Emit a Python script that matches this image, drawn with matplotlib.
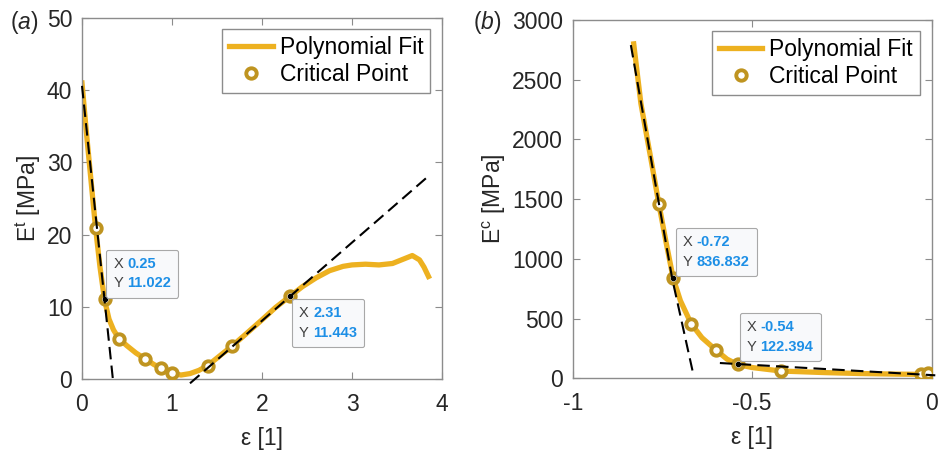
import matplotlib
matplotlib.use("Agg")
import matplotlib.pyplot as plt
from matplotlib.offsetbox import TextArea, HPacker, VPacker, AnnotationBbox

plt.rcParams["font.family"] = ["Liberation Sans", "DejaVu Sans"]
plt.rcParams["mathtext.fontset"] = "custom"
plt.rcParams["mathtext.rm"] = "Liberation Sans"
plt.rcParams["mathtext.it"] = "Liberation Sans:italic"

# ---- panel (a): tension ----
fit_a_x = [0.00, 0.05, 0.10, 0.15, 0.20, 0.25, 0.30, 0.35, 0.41, 0.50, 0.60, 0.70,
           0.80, 0.88, 0.95, 1.00, 1.10, 1.20, 1.30, 1.40, 1.50, 1.67, 1.80, 2.00,
           2.15, 2.31, 2.45, 2.60, 2.75, 2.90, 3.00, 3.15, 3.30, 3.45, 3.55, 3.67,
           3.75, 3.80, 3.85]
fit_a_y = [41.0, 34.0, 27.5, 21.0, 15.5, 11.0, 8.3, 6.8, 5.6, 4.6, 3.6, 2.8,
           2.0, 1.5, 1.0, 0.8, 0.55, 0.75, 1.2, 1.9, 2.9, 4.6, 6.0, 8.2,
           9.9, 11.45, 12.8, 14.0, 15.0, 15.6, 15.8, 15.9, 15.8, 16.0, 16.5, 17.1,
           16.5, 15.5, 14.2]
crit_a_x = [0.15, 0.25, 0.41, 0.70, 0.88, 1.00, 1.40, 1.67, 2.31]
crit_a_y = [20.9, 11.022, 5.6, 2.8, 1.57, 0.8, 1.85, 4.6, 11.443]
tan_a1_x = [0.0, 0.348]
tan_a1_y = [40.6, -0.6]
tan_a2_x = [1.20, 3.84]
tan_a2_y = [-0.6, 28.0]
tips_a = [(0.25, 11.022, "0.25", "11.022"), (2.31, 11.443, "2.31", "11.443")]

# ---- panel (b): compression ----
fit_b_x = [-0.830, -0.820, -0.810, -0.795, -0.780, -0.760, -0.740, -0.720, -0.700,
           -0.670, -0.640, -0.600, -0.570, -0.540, -0.500, -0.420, -0.300, -0.200,
           -0.100, -0.030, -0.010, 0.000]
fit_b_y = [2800, 2550, 2300, 2050, 1800, 1460, 1140, 837, 650,
           457, 340, 234, 160, 115, 90, 61, 48, 40,
           35, 33, 45, 48]
crit_b_x = [-0.76, -0.72, -0.67, -0.60, -0.54, -0.42, -0.031, -0.009]
crit_b_y = [1459, 836.832, 457, 234, 122.394, 61, 33, 47]
tan_b1_x = [-0.838, -0.7225, -0.664]
tan_b1_y = [2790, 830, 33]
tan_b2_x = [-0.59, 0.01]
tan_b2_y = [128, 25]
tips_b = [(-0.72, 836.832, "-0.72", "836.832"), (-0.54, 122.394, "-0.54", "122.394")]

LINE_C = "#EDB120"
MARK_C = "#BF9420"
SPINE_C = "#8c8c8c"
TEXT_C = "#262626"
FS = 16.5
TIP_FS = 10.5

fig = plt.figure(figsize=(9.4, 4.51), dpi=100)
ax_a = fig.add_axes([82 / 940, 1 - 379 / 451, 360 / 940, 361 / 451])
ax_b = fig.add_axes([572.7 / 940, 1 - 378.3 / 451, 359 / 940, 358.3 / 451])


def add_tip(ax, x, y, xs, ys, offset, align):
    rows = []
    for lab, val in (("X ", xs), ("Y ", ys)):
        t1 = TextArea(lab, textprops=dict(color="#404040", fontsize=TIP_FS))
        t2 = TextArea(val, textprops=dict(color="#1d8fe6", fontsize=TIP_FS, fontweight="bold"))
        rows.append(HPacker(children=[t1, t2], pad=0, sep=0, align="baseline"))
    box = VPacker(children=rows, pad=0, sep=4, align="left")
    ab = AnnotationBbox(box, (x, y), xybox=offset, xycoords="data",
                        boxcoords="offset points", box_alignment=align,
                        frameon=True, pad=0.5, fontsize=TIP_FS,
                        bboxprops=dict(boxstyle="round,pad=0.5,rounding_size=0.15",
                                       fc="#f8f9fb", ec="#a8a8a8", lw=0.8),
                        zorder=6)
    ax.add_artist(ab)
    ax.plot([x], [y], "o", color="k", ms=3, zorder=5, clip_on=False)


def style(ax):
    for s in ax.spines.values():
        s.set_color(SPINE_C)
        s.set_linewidth(1.0)
    ax.tick_params(direction="in", length=5, width=0.8, color=SPINE_C,
                   top=True, right=True, labelsize=FS, labelcolor=TEXT_C)
    ax.tick_params(axis="x", pad=10)
    ax.tick_params(axis="y", pad=7)


# panel a
ax_a.plot(fit_a_x, fit_a_y, color=LINE_C, lw=3.8, label="Polynomial Fit", zorder=2)
ax_a.plot(crit_a_x, crit_a_y, "o", ms=7.5, mfc="white", mec=MARK_C, mew=2.8,
          label="Critical Point", zorder=3)
ax_a.plot(tan_a1_x, tan_a1_y, color="k", lw=1.5, ls=(0, (6, 3)), zorder=4, clip_on=False)
ax_a.plot(tan_a2_x, tan_a2_y, color="k", lw=1.5, ls=(0, (6, 3)), zorder=4, clip_on=False)
ax_a.set_xlim(0, 4)
ax_a.set_ylim(0, 50)
ax_a.set_xticks([0, 1, 2, 3, 4])
ax_a.set_yticks([0, 10, 20, 30, 40, 50])
ax_a.set_xlabel("ε [1]", fontsize=FS, color=TEXT_C)
ax_a.set_ylabel("E$^{\\mathrm{t}}$ [MPa]", fontsize=FS, color=TEXT_C)
ax_a.xaxis.set_label_coords(0.5, -0.134)
ax_a.yaxis.set_label_coords(-0.108, 0.5)
style(ax_a)
add_tip(ax_a, *tips_a[0], offset=(6.5, 6.5), align=(0, 0))
add_tip(ax_a, *tips_a[1], offset=(6.7, -7.2), align=(0, 1))

# panel b
ax_b.plot(fit_b_x, fit_b_y, color=LINE_C, lw=3.8, label="Polynomial Fit", zorder=2)
ax_b.plot(crit_b_x, crit_b_y, "o", ms=7.5, mfc="white", mec=MARK_C, mew=2.8,
          label="Critical Point", zorder=3)
ax_b.plot(tan_b1_x, tan_b1_y, color="k", lw=1.5, ls=(0, (6, 3)), zorder=4, clip_on=False)
ax_b.plot(tan_b2_x, tan_b2_y, color="k", lw=1.5, ls=(0, (6, 3)), zorder=4, clip_on=False)
ax_b.set_xlim(-1, 0)
ax_b.set_ylim(0, 3000)
ax_b.set_xticks([-1, -0.5, 0])
ax_b.set_xticklabels(["-1", "-0.5", "0"])
ax_b.set_yticks([0, 500, 1000, 1500, 2000, 2500, 3000])
ax_b.set_xlabel("ε [1]", fontsize=FS, color=TEXT_C)
ax_b.set_ylabel("E$^{\\mathrm{c}}$ [MPa]", fontsize=FS, color=TEXT_C)
ax_b.xaxis.set_label_coords(0.5, -0.134)
ax_b.yaxis.set_label_coords(-0.18, 0.5)
style(ax_b)
add_tip(ax_b, *tips_b[0], offset=(7, 7), align=(0, 0))
add_tip(ax_b, *tips_b[1], offset=(6.5, 7), align=(0, 0))

for ax in (ax_a, ax_b):
    leg = ax.legend(loc="upper right", bbox_to_anchor=(1 - 12 / 360, 1 - 11 / 360),
                    borderaxespad=0, fontsize=FS, fancybox=False, framealpha=1,
                    edgecolor=SPINE_C, handlelength=1.9, handletextpad=0.3,
                    labelspacing=0.2, borderpad=0.3)
    leg.get_frame().set_linewidth(1.0)
    for t in leg.get_texts():
        t.set_color("black")

fig.text(10 / 940, 1 - 23 / 451, "($\\it{a}$)", fontsize=FS, va="center", color=TEXT_C)
fig.text(473 / 940, 1 - 23 / 451, "($\\it{b}$)", fontsize=FS, va="center", color=TEXT_C)

fig.savefig("out.png", dpi=100)
